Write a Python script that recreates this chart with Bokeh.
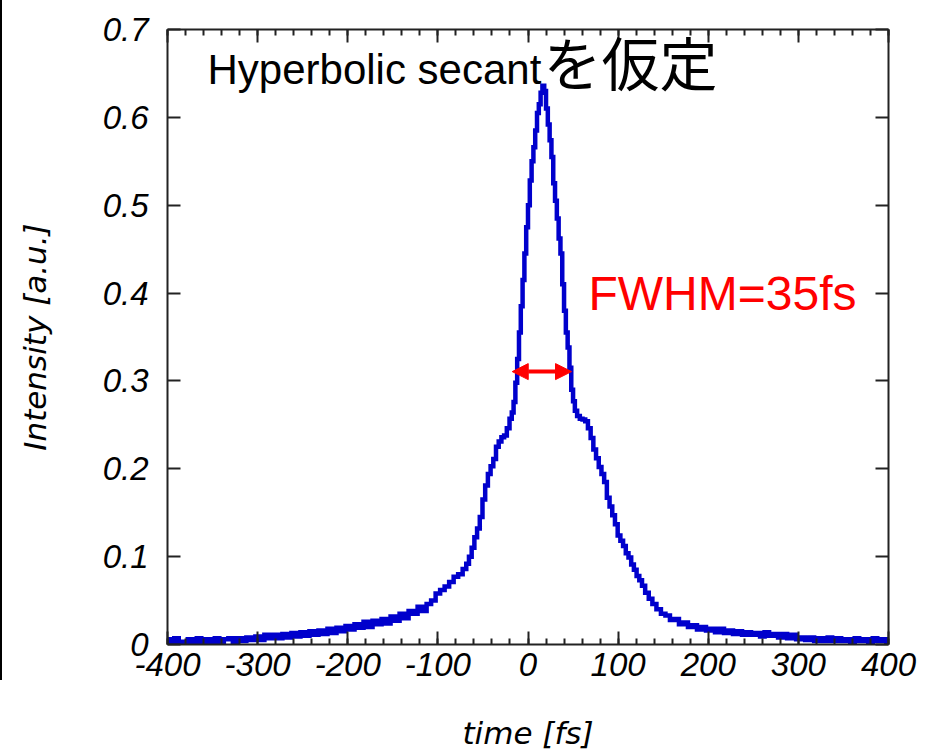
from bokeh.plotting import figure
from bokeh.models import (FixedTicker, LinearAxis, Label, Arrow, NormalHead,
                          NumeralTickFormatter, Div, Row)
from bokeh.embed import file_html
from bokeh.resources import INLINE

# Autocorrelation trace: delay time [fs] vs. intensity [a.u.]
time_fs = [
    -400, -395, -390, -385, -380, -375, -370, -365, -360, -355,
    -350, -345, -340, -335, -330, -325, -320, -315, -310, -305,
    -300, -295, -290, -285, -280, -275, -270, -265, -260, -255,
    -250, -245, -240, -235, -230, -225, -220, -215, -210, -205,
    -200, -195, -190, -185, -180, -175, -170, -165, -160, -155,
    -150, -145, -140, -135, -130, -125, -120, -115, -110, -105,
    -100, -95, -90, -85, -80, -75, -70, -67, -64, -61,
    -58, -55, -52, -49, -46, -43, -40, -37, -34, -31,
    -28, -25, -22, -19, -17, -15, -13, -11, -9, -7,
    -5, -3, -1, 1, 3, 5, 7, 9, 11, 13,
    15, 17, 19, 21, 23, 25, 27, 29, 31, 33,
    35, 37, 39, 41, 43, 45, 47, 49, 51, 53,
    56, 59, 62, 65, 68, 71, 74, 77, 80, 83,
    86, 89, 92, 95, 98, 101, 104, 107, 110, 113,
    116, 119, 122, 125, 128, 132, 136, 140, 145, 150,
    155, 160, 165, 170, 175, 180, 185, 190, 195, 200,
    205, 210, 215, 220, 225, 230, 235, 240, 245, 250,
    255, 260, 265, 270, 275, 280, 285, 290, 295, 300,
    305, 310, 315, 320, 325, 330, 335, 340, 345, 350,
    355, 360, 365, 370, 375, 380, 385, 390, 395, 400,
]
intensity = [
    0.006, 0.002, 0.007, 0.003, 0.002, 0.006, 0.003, 0.007, 0.002, 0.006,
    0.003, 0.007, 0.003, 0.006, 0.007, 0.003, 0.007, 0.004, 0.008, 0.005,
    0.009, 0.005, 0.011, 0.007, 0.011, 0.007, 0.012, 0.008, 0.013, 0.009,
    0.014, 0.010, 0.015, 0.011, 0.016, 0.012, 0.018, 0.013, 0.019, 0.015,
    0.021, 0.017, 0.023, 0.019, 0.026, 0.020, 0.027, 0.023, 0.029, 0.024,
    0.032, 0.027, 0.035, 0.030, 0.038, 0.035, 0.043, 0.038, 0.046, 0.050,
    0.058, 0.062, 0.066, 0.071, 0.077, 0.080, 0.086, 0.092, 0.100, 0.110,
    0.122, 0.132, 0.145, 0.165, 0.181, 0.194, 0.203, 0.211, 0.225, 0.231,
    0.236, 0.238, 0.246, 0.257, 0.264, 0.276, 0.298, 0.325, 0.355, 0.385,
    0.415, 0.445, 0.475, 0.500, 0.528, 0.550, 0.566, 0.585, 0.605, 0.615,
    0.628, 0.636, 0.630, 0.610, 0.592, 0.574, 0.555, 0.525, 0.505, 0.485,
    0.462, 0.445, 0.410, 0.380, 0.355, 0.338, 0.315, 0.290, 0.277, 0.266,
    0.260, 0.257, 0.256, 0.254, 0.246, 0.235, 0.222, 0.212, 0.202, 0.194,
    0.185, 0.167, 0.157, 0.147, 0.137, 0.124, 0.118, 0.112, 0.104, 0.099,
    0.091, 0.085, 0.078, 0.073, 0.067, 0.059, 0.052, 0.046, 0.040, 0.035,
    0.033, 0.028, 0.029, 0.023, 0.025, 0.020, 0.022, 0.017, 0.020, 0.016,
    0.018, 0.014, 0.018, 0.013, 0.016, 0.012, 0.015, 0.011, 0.014, 0.011,
    0.013, 0.009, 0.014, 0.010, 0.012, 0.008, 0.012, 0.007, 0.011, 0.006,
    0.008, 0.005, 0.008, 0.004, 0.007, 0.004, 0.008, 0.004, 0.007, 0.004,
    0.006, 0.003, 0.007, 0.004, 0.006, 0.003, 0.007, 0.004, 0.006, 0.003,
]

x_major_ticks = [-400, -300, -200, -100, 0, 100, 200, 300, 400]
x_minor_ticks = list(range(-400, 401, 20))
y_major_ticks = [0, 0.1, 0.2, 0.3, 0.4, 0.5, 0.6, 0.7]
x_tick_labels = {t: str(t) for t in x_major_ticks}

# FWHM marker (delay positions of the half-maximum crossings)
fwhm_left = -17.5
fwhm_right = 48.3
fwhm_level = 0.3106

title_latin = "Hyperbolic secant"
title_kana = "を仮定"
fwhm_text = "FWHM=35fs"

p = figure(width=933, height=753, x_range=(-400, 400), y_range=(0, 0.7),
           output_backend="svg", toolbar_location=None,
           min_border_left=165, min_border_right=47,
           min_border_top=29, min_border_bottom=108,
           x_axis_label="time [fs]", y_axis_label="Intensity [a.u.]")
p.grid.visible = False
p.outline_line_color = None
p.background_fill_color = "white"
p.border_fill_color = "white"

p.step(time_fs, intensity, mode="center", line_color="#0000cc",
       line_width=4.5, line_join="miter")

frame_color = "#222222"


def style_axis(ax, show_labels):
    ax.axis_line_color = frame_color
    ax.axis_line_width = 2
    ax.major_tick_line_color = frame_color
    ax.minor_tick_line_color = frame_color
    ax.major_tick_line_width = 2
    ax.minor_tick_line_width = 2
    ax.major_tick_out = 0
    ax.minor_tick_out = 0
    if not show_labels:
        ax.major_label_text_font_size = "0px"
        ax.major_label_text_alpha = 0
    else:
        ax.major_label_text_font = "Liberation Sans"
        ax.major_label_text_font_style = "italic"
        ax.major_label_text_font_size = "33px"
        ax.major_label_text_color = "black"
        ax.axis_label_text_font = "DejaVu Sans"
        ax.axis_label_text_font_style = "italic"
        ax.axis_label_text_font_size = "31px"
        ax.axis_label_text_color = "black"


xt = FixedTicker(ticks=x_major_ticks, minor_ticks=x_minor_ticks)
yt = FixedTicker(ticks=y_major_ticks, minor_ticks=[])

for ax in p.xaxis:
    ax.ticker = xt
    style_axis(ax, True)
    ax.major_label_overrides = x_tick_labels
    ax.major_tick_in = 13
    ax.minor_tick_in = 6
    ax.major_label_standoff = 8
    ax.axis_label_standoff = 36
for ax in p.yaxis:
    ax.ticker = yt
    ax.formatter = NumeralTickFormatter(format="0.[0]")
    style_axis(ax, True)
    ax.major_tick_in = 13
    ax.minor_tick_in = 0
    ax.major_label_standoff = 19
    ax.axis_label_standoff = 47

top = LinearAxis(ticker=xt)
style_axis(top, False)
top.major_tick_in = 13
top.minor_tick_in = 6
p.add_layout(top, "above")

right = LinearAxis(ticker=yt)
style_axis(right, False)
right.major_tick_in = 13
right.minor_tick_in = 0
p.add_layout(right, "right")

p.add_layout(Label(x=-355.6, y=0.655, text=title_latin,
                   text_font="Liberation Sans", text_font_size="42px",
                   text_color="black", text_baseline="alphabetic",
                   text_align="left"))
p.add_layout(Label(x=17.2, y=0.664, text=title_kana,
                   text_font="Noto Sans CJK JP", text_font_size="58px",
                   text_color="black", text_baseline="alphabetic",
                   text_align="left"))
p.add_layout(Label(x=67.1, y=0.399, text=fwhm_text,
                   text_font="Liberation Sans", text_font_size="48px",
                   text_color="#ff0000", text_baseline="alphabetic",
                   text_align="left"))

p.add_layout(Arrow(x_start=fwhm_left, x_end=fwhm_right,
                   y_start=fwhm_level, y_end=fwhm_level,
                   line_color="#ff0000", line_width=4,
                   start=NormalHead(size=16, fill_color="#ff0000",
                                    line_color="#ff0000", line_width=1),
                   end=NormalHead(size=16, fill_color="#ff0000",
                                  line_color="#ff0000", line_width=1)))

edge = Div(width=2, height=680, margin=0,
           styles={"background-color": "black"})
layout = Row(edge, p, spacing=0)

open("out.html", "w").write(file_html(layout, INLINE))
